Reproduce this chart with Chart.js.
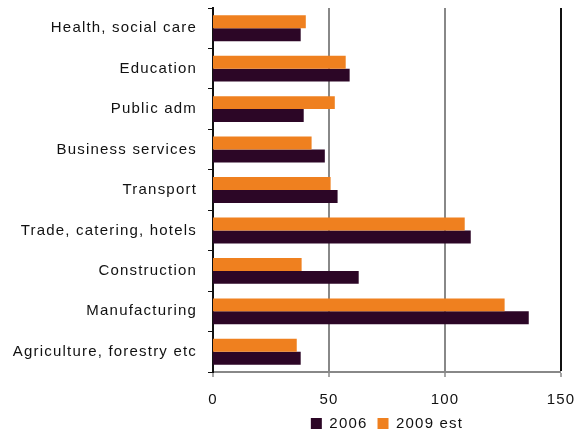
<!DOCTYPE html>
<html>
<head>
<meta charset="utf-8">
<script src="https://cdn.jsdelivr.net/npm/chart.js@4"></script>
<style>
  html, body { margin: 0; padding: 0; background: #fff; }
  #wrap { width: 577px; height: 434px; }
</style>
</head>
<body>
<div id="wrap"><canvas id="myChart" width="577" height="434"></canvas></div>
<script>
const sectors = ["Health, social care", "Education", "Public adm", "Business services", "Transport",
    "Trade, catering, hotels", "Construction", "Manufacturing", "Agriculture, forestry etc"];
const values2006 = [37.8, 58.9, 39.1, 48.2, 53.7, 111.1, 62.8, 136.1, 37.8];
const values2009 = [40.0, 57.2, 52.5, 42.5, 50.7, 108.5, 38.2, 125.7, 36.1];
const xTicks = [0, 50, 100, 150];

const cDark = "#2c0626";
const cOrange = "#ef801f";
const labelFont = { family: "'Liberation Sans', Arial, sans-serif", size: 15 };

// wider letter spacing for all canvas text (canvas resize resets it, so set it every pass)
const setSpacing = (chart) => { chart.ctx.letterSpacing = "1.2px"; };
const spacing = {
    id: 'spacing',
    beforeInit: setSpacing,
    beforeUpdate: setSpacing,
    beforeLayout: setSpacing,
    beforeDraw: setSpacing
};

var gConfig = {
    type: 'bar',
    data: {
        labels: sectors,
        datasets: [
            { label: "2009 est", data: values2009, backgroundColor: cOrange },
            { label: "2006", data: values2006, backgroundColor: cDark }
        ]
    },
    options: {
        indexAxis: 'y',
        responsive: false,
        animation: false,
        maintainAspectRatio: false,
        datasets: { bar: { categoryPercentage: 0.64, barPercentage: 1.0 } },
        layout: { padding: { left: 0, right: 16, top: 8, bottom: -7 } },
        scales: {
            x: {
                min: xTicks[0],
                max: xTicks[xTicks.length - 1],
                afterBuildTicks: (scale) => { scale.ticks = xTicks.map((v) => ({ value: v })); },
                afterFit: (scale) => {
                    scale.height = 34;
                    scale.paddingLeft = 0;
                    scale.paddingRight = 0;
                },
                ticks: { font: labelFont, padding: 14, color: "#111" },
                grid: {
                    color: (ctx) => ctx.tick && ctx.tick.value === 150 ? "#111" : "#888",
                    lineWidth: (ctx) => ctx.tick && ctx.tick.value === 0 ? 0 : 2,
                    tickColor: "#888",
                    tickWidth: 1.5,
                    tickLength: 5
                },
                border: { color: "#888", width: 2 }
            },
            y: {
                afterFit: (scale) => {
                    scale.width = 213;
                    scale.paddingTop = 0;
                    scale.paddingBottom = 0;
                },
                ticks: { font: labelFont, padding: 11, color: "#111" },
                grid: {
                    drawOnChartArea: false,
                    color: "#111",
                    tickLength: 5,
                    offset: true
                },
                border: { color: "#111", width: 2 }
            }
        },
        plugins: {
            legend: {
                position: 'bottom',
                fullSize: false,
                labels: {
                    font: labelFont,
                    color: "#111",
                    boxWidth: 11,
                    boxHeight: 11,
                    padding: 10,
                    sort: (a, b) => b.datasetIndex - a.datasetIndex
                }
            },
            tooltip: { enabled: false }
        }
    },
    plugins: [spacing]
};

const ctx = document.getElementById('myChart');
const gChart = new Chart(ctx, gConfig);
</script>
</body>
</html>
